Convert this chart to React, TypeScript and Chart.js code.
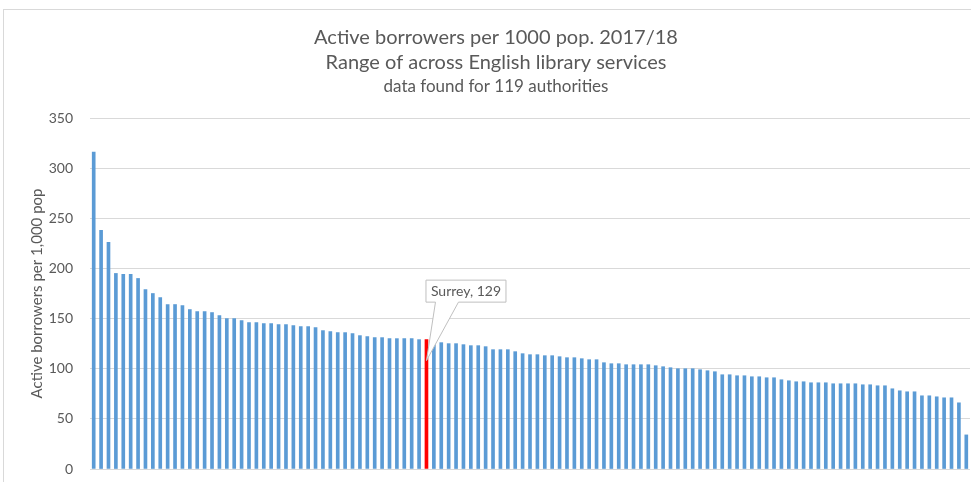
import React, { useEffect, useRef } from "react";
import { Chart, registerables } from "chart.js";

Chart.register(...registerables);

const titleLines = ["Active borrowers per 1000 pop. 2017/18", "Range of across English library services"];
const subtitleText = "data found for 119 authorities";
const yAxisTitle = "Active borrowers per 1,000 pop";
const highlightName = "Surrey";
const highlightIndex = 45;

const borrowersPer1000 = [
  316, 238, 226, 195, 194, 194, 190, 179, 175, 171,
  164, 164, 163, 159, 157, 157, 156, 153, 150, 150,
  148, 146, 146, 145, 145, 144, 144, 143, 142, 142,
  141, 138, 137, 136, 136, 135, 133, 132, 131, 131,
  130, 130, 130, 130, 129, 129, 127, 126, 125, 125,
  124, 123, 123, 122, 119, 119, 119, 117, 115, 114,
  114, 113, 113, 112, 111, 111, 110, 109, 109, 106,
  105, 105, 104, 104, 104, 104, 103, 102, 101, 100,
  100, 100, 99, 98, 97, 94, 94, 93, 93, 92,
  92, 91, 91, 89, 88, 87, 87, 86, 86, 86,
  85, 85, 85, 85, 84, 84, 83, 83, 80, 78,
  77, 77, 73, 73, 72, 71, 71, 66, 34,
];

const yTicksMin = 0;
const yTicksMax = 350;
const yTickStep = 50;

const authorityLabels = borrowersPer1000.map((_, i) => (i === highlightIndex ? highlightName : `Authority ${i + 1}`));

const TEXT = "#595959";
const GRID = "#d9d9d9";
const BAR = "#5b9bd5";
const HIGHLIGHT = "#ff0000";
const FONT = "Lato, 'Open Sans', sans-serif";

const decorPlugin = {
  id: "decor",
  afterDraw(chart: any) {
    const ctx = chart.ctx;
    const area = chart.chartArea;
    ctx.save();
    ctx.fillStyle = TEXT;
    ctx.textAlign = "center";
    ctx.textBaseline = "middle";
    ctx.font = `20px ${FONT}`;
    ctx.fillText(titleLines[0], 496, 38);
    ctx.fillText(titleLines[1], 496, 63);
    ctx.font = `17px ${FONT}`;
    ctx.fillText(subtitleText, 496, 87);

    ctx.translate(37.5, (area.top + area.bottom) / 2);
    ctx.rotate(-Math.PI / 2);
    ctx.font = `15px ${FONT}`;
    ctx.fillText(yAxisTitle, 0, 0);
    ctx.restore();

    // callout
    const meta = chart.getDatasetMeta(0);
    const el = meta.data[highlightIndex];
    if (!el) return;
    const bx = el.x - 1;
    const top = el.y - 60;
    const w = 80;
    const h = 22;
    const tipX = el.x;
    const tipY = el.y + 21;
    ctx.save();
    ctx.beginPath();
    ctx.moveTo(bx + 0.5, top + 0.5);
    ctx.lineTo(bx + w + 0.5, top + 0.5);
    ctx.lineTo(bx + w + 0.5, top + h + 0.5);
    ctx.lineTo(bx + 33, top + h + 0.5);
    ctx.lineTo(tipX, tipY);
    ctx.lineTo(bx + 10, top + h + 0.5);
    ctx.lineTo(bx + 0.5, top + h + 0.5);
    ctx.closePath();
    ctx.fillStyle = "#ffffff";
    ctx.fill();
    ctx.strokeStyle = "#bfbfbf";
    ctx.lineWidth = 1;
    ctx.stroke();
    ctx.fillStyle = TEXT;
    ctx.font = `14px ${FONT}`;
    ctx.textAlign = "center";
    ctx.textBaseline = "middle";
    ctx.fillText(`${authorityLabels[highlightIndex]}, ${borrowersPer1000[highlightIndex]}`, bx + w / 2 + 0.5, top + h / 2 + 1);
    ctx.restore();
  },
};

export default function App() {
  const ref = useRef<HTMLCanvasElement | null>(null);

  useEffect(() => {
    if (!ref.current) return;
    const chart = new Chart(ref.current, {
      type: "bar",
      data: {
        labels: authorityLabels,
        datasets: [
          {
            data: borrowersPer1000,
            backgroundColor: borrowersPer1000.map((_, i) => (i === highlightIndex ? HIGHLIGHT : BAR)),
            barThickness: 3,
          },
        ],
      },
      options: {
        responsive: false,
        maintainAspectRatio: false,
        animation: false,
        layout: { padding: { top: 118, bottom: 13, left: 0, right: 1 } },
        plugins: {
          legend: { display: false },
          title: { display: false },
          tooltip: { enabled: false },
        },
        scales: {
          x: { display: false },
          y: {
            min: yTicksMin,
            max: yTicksMax,
            afterFit(scale: any) {
              scale.width = 90;
              scale.paddingTop = 0;
              scale.paddingBottom = 0;
            },
            ticks: {
              stepSize: yTickStep,
              color: TEXT,
              font: { family: FONT, size: 14 },
              padding: 17,
            },
            grid: { color: GRID, lineWidth: 1, drawTicks: false },
            border: { display: false },
          },
        },
      },
      plugins: [decorPlugin],
    });
    return () => chart.destroy();
  }, []);

  return (
    <div style={{ position: "absolute", left: 0, top: 0, width: 971, height: 482, background: "#fff", overflow: "hidden" }}>
      <div
        style={{
          position: "absolute",
          left: 3,
          top: 9,
          width: 980,
          height: 490,
          borderLeft: `1px solid ${GRID}`,
          borderTop: `1px solid ${GRID}`,
        }}
      />
      <canvas ref={ref} width={971} height={482} style={{ position: "absolute", left: 0, top: 0 }} />
    </div>
  );
}
